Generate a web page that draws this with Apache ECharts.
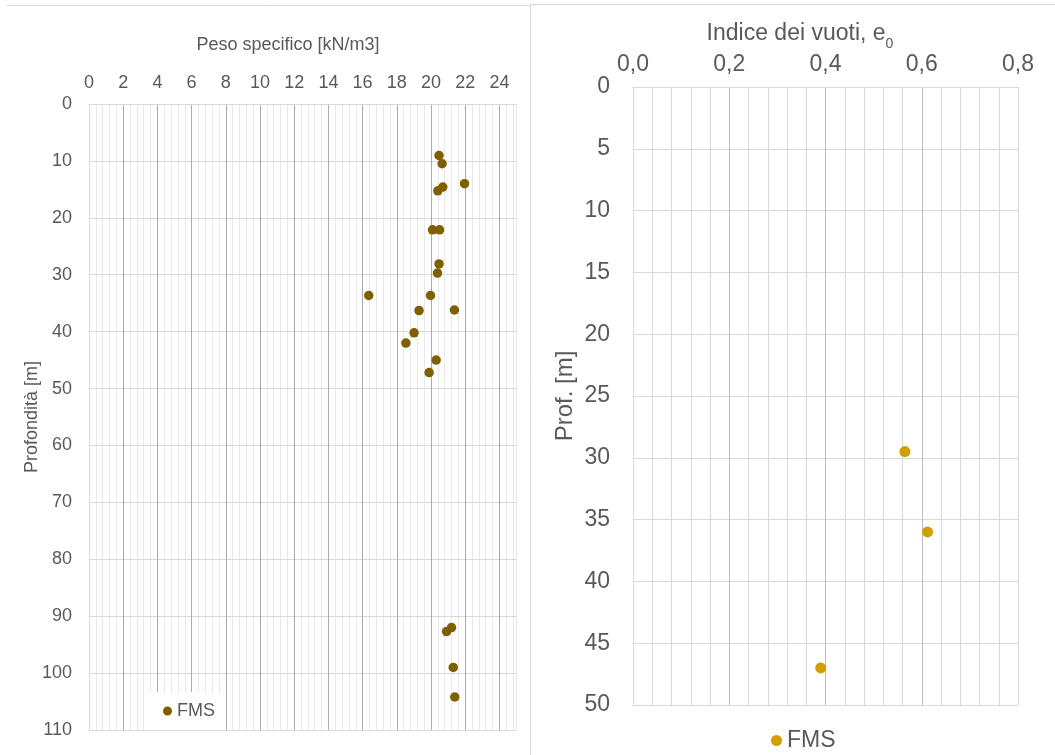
<!DOCTYPE html>
<html>
<head>
<meta charset="utf-8">
<script src="https://cdn.jsdelivr.net/npm/echarts@6/dist/echarts.min.js"></script>
<style>
html,body{margin:0;padding:0;background:#fff;}
#c{width:1055px;height:755px;}
</style>
</head>
<body>
<div id="c"></div>
<script>
// ---- Data ----
// Left chart: Peso specifico [kN/m3] vs Profondità [m]
const leftGamma = [20.47, 20.65, 21.96, 20.69, 20.40, 20.09, 20.50, 20.47, 20.38, 16.36, 19.97, 19.30, 21.37, 19.01, 18.53, 20.30, 19.89, 21.20, 20.91, 21.30, 21.39];
const leftDepth = [9.05, 10.5, 14.0, 14.6, 15.25, 22.1, 22.1, 28.1, 29.7, 33.65, 33.65, 36.3, 36.2, 40.2, 42.0, 45.0, 47.2, 92.0, 92.7, 99.0, 104.2];
// Right chart: Indice dei vuoti e0 vs Prof. [m]
const rightE0 = [0.565, 0.612, 0.390];
const rightDepth = [29.5, 36.0, 47.0];
const seriesName = 'FMS';
const leftXTicks = {min: 0, max: 25, interval: 2, minor: 0.4};
const leftYTicks = {min: 0, max: 110, interval: 10};
const rightXTicks = {min: 0, max: 0.8, interval: 0.2, minor: 0.04};
const rightYTicks = {min: 0, max: 50, interval: 5};

const FONT = 'Liberation Sans, Arial, sans-serif';
const TXT = '#595959';
const chart = echarts.init(document.getElementById('c'), null, {renderer: 'canvas'});

const leftPts = leftGamma.map((v, i) => [v, leftDepth[i]]);
const rightPts = rightE0.map((v, i) => [v, rightDepth[i]]);

const leftMajorColors = ['#d9d9d9'].concat(new Array(12).fill('#ababab')).concat(['#e8e8e8']);
const rightMajorColors = ['#d9d9d9', '#bdbdbd', '#bdbdbd', '#bdbdbd', '#d9d9d9'];

const hiddenBits = {axisLabel: {show: false}, axisLine: {show: false}, axisTick: {show: false}};

chart.setOption({
  animation: false,
  backgroundColor: '#fff',
  textStyle: {fontFamily: FONT},
  grid: [
    {left: 89, top: 104, width: 427.5, height: 626},
    {left: 633, top: 87, width: 385, height: 618}
  ],
  xAxis: [
    // minor (left)
    Object.assign({type: 'value', gridIndex: 0, position: 'bottom', min: leftXTicks.min, max: leftXTicks.max, interval: leftXTicks.minor, z: 0,
      splitLine: {show: true, lineStyle: {color: '#e8e8e8', width: 1}}}, hiddenBits),
    // major (left)
    {type: 'value', gridIndex: 0, position: 'top', min: leftXTicks.min, max: leftXTicks.max, interval: leftXTicks.interval, z: 1,
      axisLine: {show: true, lineStyle: {color: '#d9d9d9'}}, axisTick: {show: false},
      axisLabel: {fontSize: 18, color: TXT, margin: 12, fontFamily: FONT, formatter: v => (v > 24.5 ? '' : String(v))},
      splitLine: {show: true, lineStyle: {color: leftMajorColors, width: 1}}},
    // minor (right)
    Object.assign({type: 'value', gridIndex: 1, position: 'bottom', min: rightXTicks.min, max: rightXTicks.max, interval: rightXTicks.minor, z: 0,
      splitLine: {show: true, lineStyle: {color: '#d9d9d9', width: 1}}}, hiddenBits),
    // major (right)
    {type: 'value', gridIndex: 1, position: 'top', min: rightXTicks.min, max: rightXTicks.max, interval: rightXTicks.interval, z: 1,
      axisLine: {show: true, lineStyle: {color: '#d9d9d9'}}, axisTick: {show: false},
      axisLabel: {fontSize: 23, color: TXT, margin: 11, fontFamily: FONT, formatter: v => v.toFixed(1).replace('.', ',')},
      splitLine: {show: true, lineStyle: {color: rightMajorColors, width: 1}}}
  ],
  yAxis: [
    {type: 'value', gridIndex: 0, inverse: true, min: leftYTicks.min, max: leftYTicks.max, interval: leftYTicks.interval, z: 1,
      axisLine: {show: true, lineStyle: {color: '#d9d9d9'}}, axisTick: {show: false},
      axisLabel: {fontSize: 18, color: TXT, margin: 17, fontFamily: FONT},
      splitLine: {show: true, lineStyle: {color: '#d9d9d9'}},
      name: 'Profondità [m]', nameLocation: 'middle', nameGap: 48, nameMoveOverlap: false,
      nameTextStyle: {fontSize: 18, color: TXT, fontFamily: FONT}},
    {type: 'value', gridIndex: 1, inverse: true, min: rightYTicks.min, max: rightYTicks.max, interval: rightYTicks.interval, z: 1,
      axisLine: {show: true, lineStyle: {color: '#d9d9d9'}}, axisTick: {show: false},
      axisLabel: {fontSize: 23, color: TXT, margin: 23, fontFamily: FONT},
      splitLine: {show: true, lineStyle: {color: '#d9d9d9'}},
      name: 'Prof. [m]', nameLocation: 'middle', nameGap: 56,
      nameTextStyle: {fontSize: 24, color: TXT, fontFamily: FONT}}
  ],
  legend: [
    {data: ['L'], left: 148, top: 692, orient: 'horizontal', backgroundColor: '#fff',
      padding: [10, 10, 10, 15], itemWidth: 9, itemHeight: 9, itemGap: 5, icon: 'circle',
      formatter: () => seriesName, textStyle: {fontSize: 18, color: TXT, fontFamily: FONT}},
    {data: ['R'], left: 771, top: 729, padding: 0, itemWidth: 11, itemHeight: 11, itemGap: 5, icon: 'circle',
      formatter: () => seriesName, textStyle: {fontSize: 23, color: TXT, fontFamily: FONT}}
  ],
  graphic: [
    {type: 'line', silent: true, shape: {x1: 7, y1: 5.5, x2: 530, y2: 5.5}, style: {stroke: '#d9d9d9', lineWidth: 1}},
    {type: 'line', silent: true, shape: {x1: 530, y1: 4.5, x2: 1055, y2: 4.5}, style: {stroke: '#d9d9d9', lineWidth: 1}},
    {type: 'line', silent: true, shape: {x1: 530.5, y1: 4, x2: 530.5, y2: 755}, style: {stroke: '#d9d9d9', lineWidth: 1}},
    {type: 'text', silent: true, x: 288, y: 45,
      style: {text: 'Peso specifico [kN/m3]', fill: TXT, font: '18px ' + FONT, textAlign: 'center', textVerticalAlign: 'middle'}},
    {type: 'text', silent: true, x: 800, y: 34,
      style: {text: '{a|Indice dei vuoti, e}{s|0}', textAlign: 'center', textVerticalAlign: 'middle',
        rich: {a: {fontSize: 23, fontFamily: FONT, fill: TXT, color: TXT, lineHeight: 34, verticalAlign: 'middle'},
               s: {fontSize: 14, fontFamily: FONT, fill: TXT, color: TXT, lineHeight: 14, verticalAlign: 'bottom'}}}}
  ],
  series: [
    {name: 'L', type: 'scatter', xAxisIndex: 1, yAxisIndex: 0, data: leftPts, symbolSize: 9.5,
      itemStyle: {color: '#7F6000', opacity: 1}, z: 3},
    {name: 'R', type: 'scatter', xAxisIndex: 3, yAxisIndex: 1, data: rightPts, symbolSize: 11,
      itemStyle: {color: '#D29E00', opacity: 1}, z: 3}
  ]
});
</script>
</body>
</html>
